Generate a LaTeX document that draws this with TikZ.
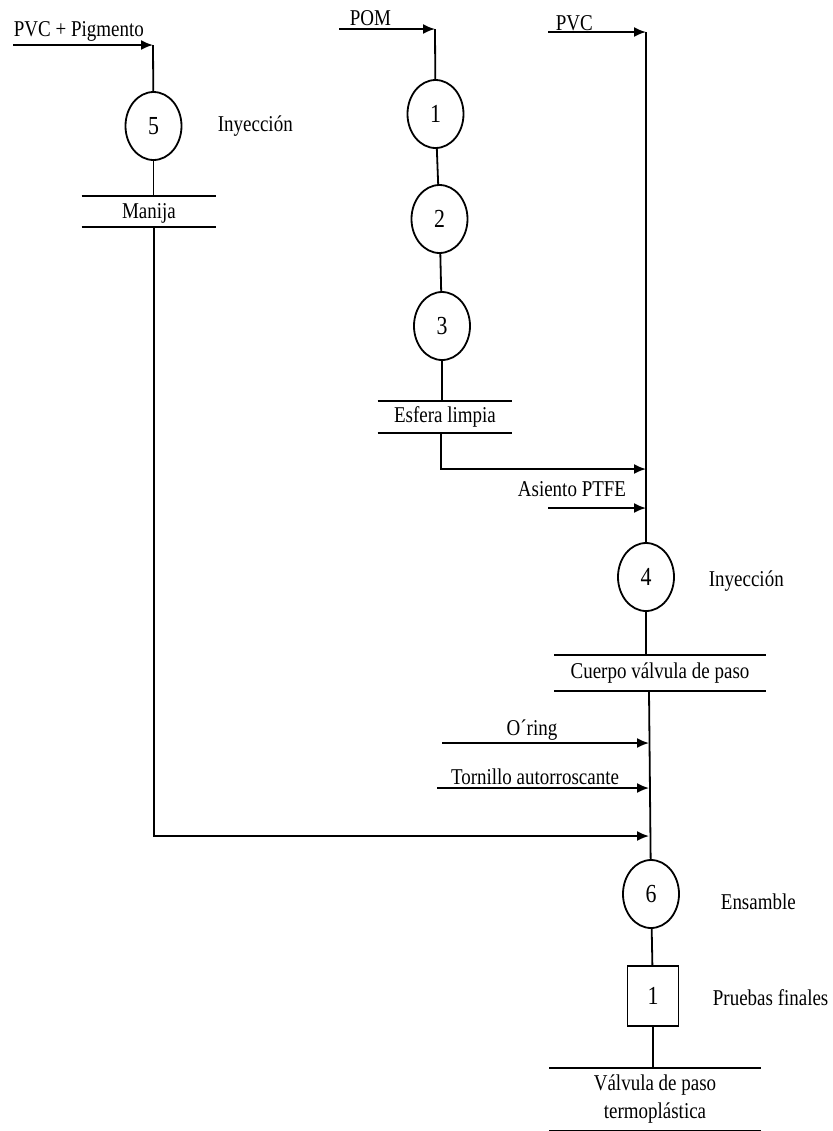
\documentclass[tikz,border=0pt]{standalone}
\usepackage{fontspec}
\setmainfont{Liberation Serif}[FakeStretch=0.84]
\usetikzlibrary{arrows.meta, positioning, shapes.geometric}

\begin{document}
\begin{tikzpicture}[x=0.5pt, y=-0.5pt, line width=0.9pt,
  font=\fontsize{11.3}{14}\selectfont,
  flujo/.style={-{Latex[length=6pt, width=5pt]}},
  oper/.style={draw, ellipse, minimum width=28pt, minimum height=34pt, inner sep=0pt, font=\fontsize{13}{15}\selectfont},
  insp/.style={draw, rectangle, minimum width=25.5pt, minimum height=30pt, inner sep=0pt, font=\fontsize{13}{15}\selectfont},
  barra/.style={inner sep=0pt, append after command={
    (\tikzlastnode.north west) edge (\tikzlastnode.north east)
    (\tikzlastnode.south west) edge (\tikzlastnode.south east)}},
  etiq/.style={inner sep=0pt}]
\useasboundingbox (0,0) rectangle (832,1131);
% Manija line
\node[etiq, anchor=base west] (t_pvcpig) at (13,36) {PVC + Pigmento};
\coordinate (in_pvcpig) at (13,45);
\coordinate (c5) at (153,45);
\node[oper] (op5) at (153.5,126) {5};
\node[etiq, anchor=west] (l5) at (217,126) {Inyección};
\node[barra, minimum width=66.5pt, minimum height=14.5pt, text depth=0pt] (manija) at (149,211.5) {Manija};
\draw[flujo] (in_pvcpig) -- (c5);
\draw (c5) -- (op5);
\draw (op5) -- (op5 |- manija.north);
% Esfera line
\node[etiq, anchor=base west] (t_pom) at (349,25) {POM};
\coordinate (in_pom) at (339,29);
\coordinate (c1) at (435,29);
\node[oper] (op1) at (435.5,114) {1};
\node[oper] (op2) at (439.5,219) {2};
\node[oper] (op3) at (442,326) {3};
\node[barra, minimum width=66.5pt, minimum height=15pt] (esfera) at (445,417) {Esfera limpia};
\draw[flujo] (in_pom) -- (c1);
\draw (c1) -- (op1) -- (op2) -- (op3) -- (op3 |- esfera.north);
% Cuerpo line
\node[etiq, anchor=base west] (t_pvc) at (555,30) {PVC};
\coordinate (in_pvc) at (548,32);
\coordinate (c4) at (646,32);
\coordinate (j1) at (646,469);
\coordinate (j2) at (646,508);
\node[etiq] (t_asiento) at (572,489) {Asiento PTFE};
\coordinate (in_asiento) at (548,508);
\node[oper] (op4) at (646,577) {4};
\node[etiq, anchor=west] (l4) at (708,581) {Inyección};
\node[barra, minimum width=105pt, minimum height=17pt] (cuerpo) at (660,673) {Cuerpo válvula de paso};
\draw[flujo] (in_pvc) -- (c4);
\draw (c4) -- (op4);
\draw[flujo] (esfera.south -| 441,0) |- (j1);
\draw[flujo] (in_asiento) -- (j2);
\draw (op4) -- (op4 |- cuerpo.north);
% Ensamble
\node[etiq] (t_oring) at (532,730) {O´ring};
\coordinate (in_oring) at (442,743);
\coordinate (j3) at (649,743);
\node[etiq] (t_tornillo) at (535,777) {Tornillo autorroscante};
\coordinate (in_tornillo) at (437,788);
\coordinate (j4) at (649,788);
\coordinate (j5) at (649,836);
\node[oper] (op6) at (651,894) {6};
\node[etiq, anchor=west] (l6) at (720,902) {Ensamble};
\node[insp] (insp1) at (653,996) {1};
\node[etiq, anchor=west] (li1) at (712,998) {Pruebas finales};
\node[barra, minimum width=105pt, minimum height=30.5pt, align=center] (valvula) at (655,1099.5) {Válvula de paso\\termoplástica};
\draw[flujo] (in_oring) -- (j3);
\draw[flujo] (in_tornillo) -- (j4);
\draw[flujo] (manija.south -| 154,0) |- (j5);
\draw (cuerpo.south -| 649,0) -- (op6);
\draw (op6) -- (insp1);
\draw (insp1) -- (insp1 |- valvula.north);
\end{tikzpicture}
\end{document}
